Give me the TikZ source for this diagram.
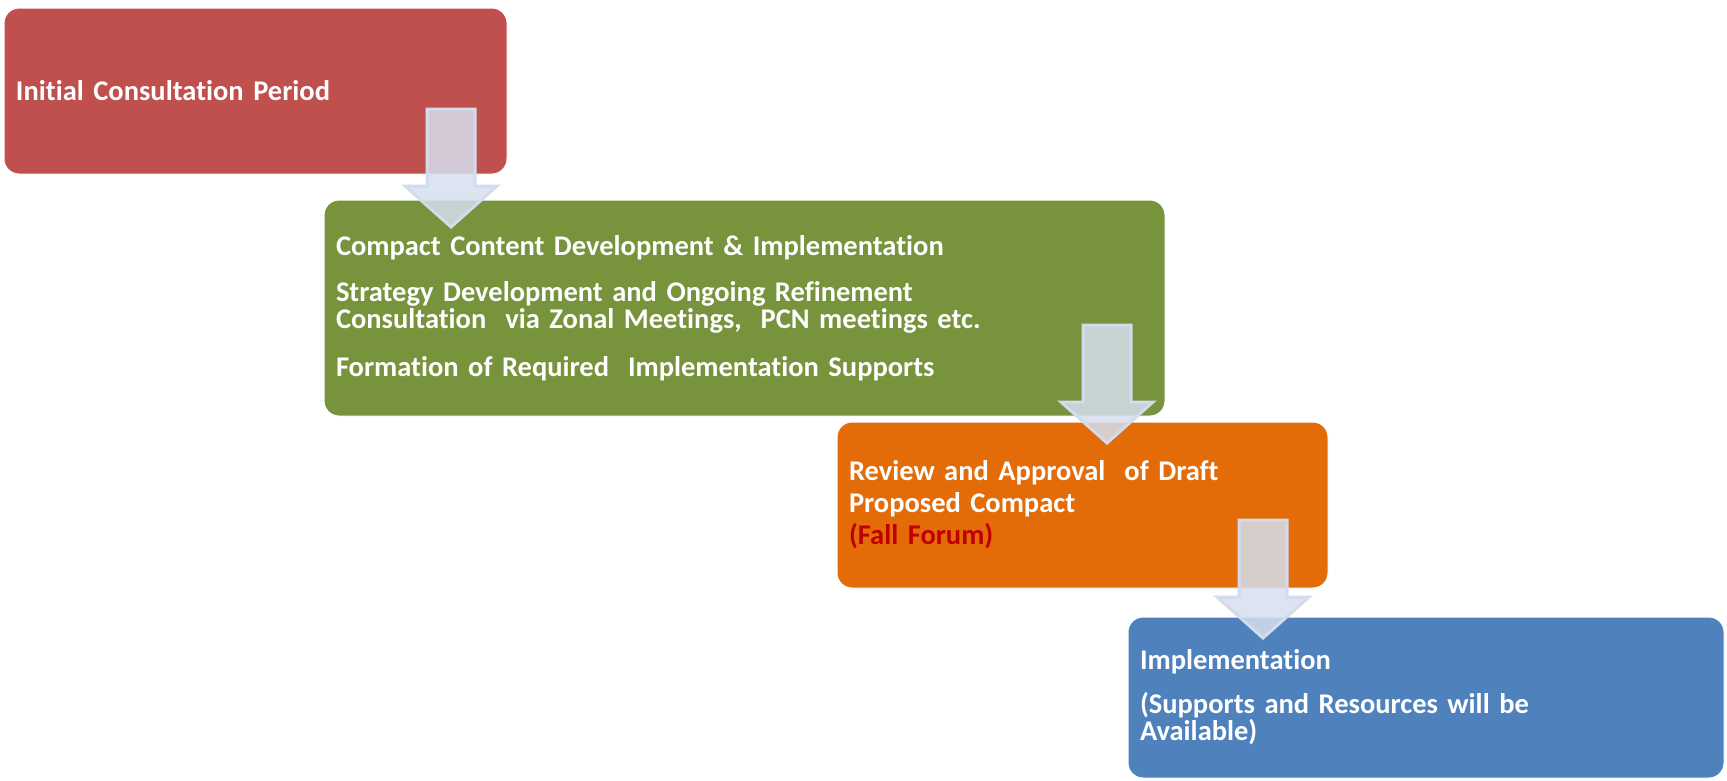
\documentclass[tikz,border=0pt]{standalone}
\usepackage{fontspec}
\setmainfont[Ligatures=NoCommon]{Carlito}
\definecolor{boxred}{HTML}{C0504D}
\definecolor{boxgreen}{HTML}{77933C}
\definecolor{boxorange}{HTML}{E36C09}
\definecolor{boxblue}{HTML}{4F81BD}
\definecolor{forumred}{HTML}{C00000}
\definecolor{arrowfill}{HTML}{D6DEEE}
\definecolor{arrowline}{HTML}{D3DBEC}
\tikzset{
  stagebox/.style={draw=white,line width=1pt,rounded corners=15pt,inner xsep=12pt,
    inner ysep=4pt,align=left,text=white,
    font=\fontsize{28.5}{27}\selectfont\bfseries},
  flowarrow/.style={fill=arrowfill,fill opacity=.85,draw=arrowline,line width=3pt,
    line join=miter}
}
\begin{document}
\begin{tikzpicture}[x=1pt,y=-1pt]
      \useasboundingbox (0,0) rectangle (1727,780);

      \path (255.5,91) node[stagebox,fill=boxred,text width=479pt,minimum height=166pt] (consult)
        {Initial Consultation Period};
      \path (744.5,308) node[stagebox,fill=boxgreen,text width=817pt,minimum height=216pt] (develop)
        {Compact Content Development \& Implementation\\[19pt]
         Strategy Development and Ongoing Refinement\\
         Consultation\ \ via Zonal Meetings,\ \ PCN meetings etc.\\[21pt]
         Formation of Required\ \ Implementation Supports};
      \path (1082.5,505) node[stagebox,fill=boxorange,text width=467pt,minimum height=166pt,
          font=\fontsize{28.5}{32}\selectfont\bfseries] (review)
        {Review and Approval\ \ of Draft\\
         Proposed Compact\\
         \textcolor{forumred}{(Fall Forum)}};
      \path (1426,697.5) node[stagebox,fill=boxblue,text width=572pt,minimum height=161pt] (implement)
        {Implementation\\[17pt]
         (Supports and Resources will be\\
         Available)};

      % block arrows between the stages
      \foreach \x/\y in {451/109,1107/325,1263/520}
        \draw[flowarrow] (\x-24,\y) -- (\x+24,\y) -- (\x+24,\y+77) -- (\x+46,\y+77)
          -- (\x,\y+118) -- (\x-46,\y+77) -- (\x-24,\y+77) -- cycle;
   \end{tikzpicture}
\end{document}
